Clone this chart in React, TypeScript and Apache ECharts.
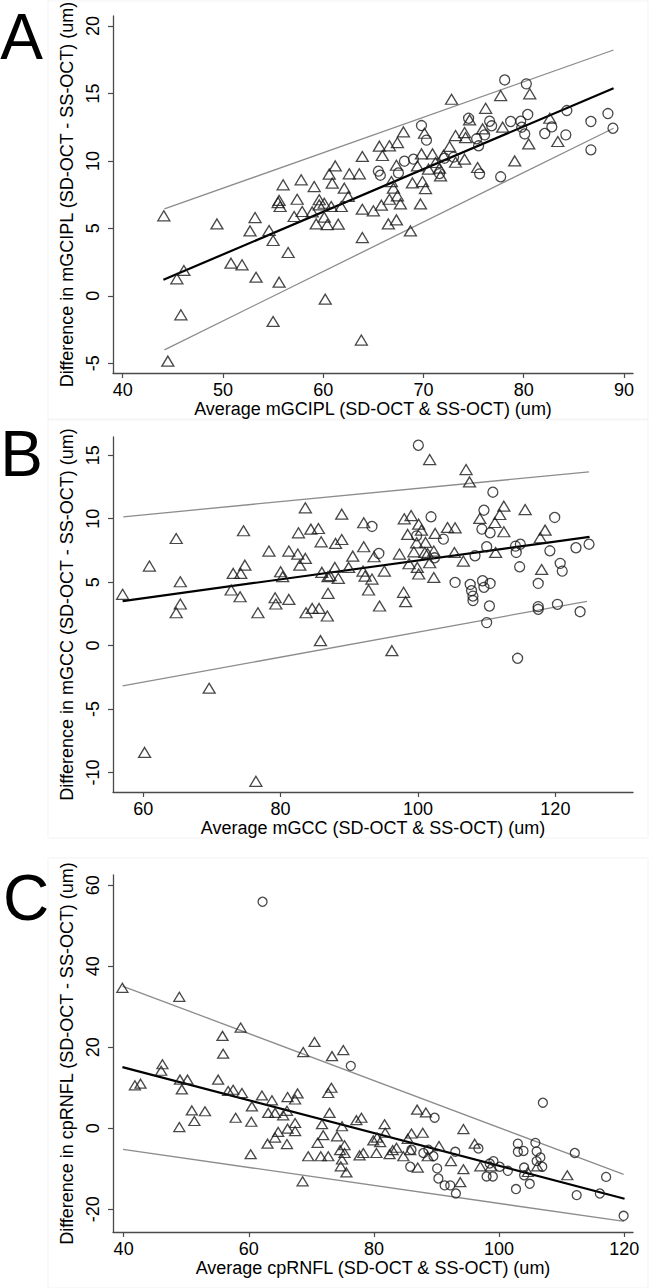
import React, { useEffect, useRef } from "react";
import * as echarts from "echarts";

// ---------- Panel A: mGCIPL ----------
const triA: number[][] = [
  [72.8,14.57],[77.7,14.84],[80.6,14.97],[76.2,13.9],[74.6,13.04],[75.9,12.37],[77.9,12.5],[82.6,13.16],[80.5,11.26],[83.4,11.44],
  [68.0,12.15],[67.4,11.36],[66.6,11.12],[65.6,11.09],[65.9,10.4],[63.9,10.33],[70.1,12.05],[73.2,11.88],[74.1,12.1],[74.2,11.73],
  [72.6,11.07],[69.8,10.52],[70.9,10.52],[72.0,10.42],[69.4,9.63],[71.2,9.88],[73.2,9.9],[74.1,10.13],[70.5,9.39],[71.7,8.89],
  [71.6,9.46],[79.1,10.0],[67.3,9.68],[61.2,9.63],[60.6,9.02],[62.6,9.04],[63.6,9.04],[60.9,8.35],[62.1,7.98],[62.5,7.36],
  [66.8,8.47],[67.0,7.98],[68.9,8.37],[69.9,8.47],[70.2,7.95],[67.4,7.41],[66.6,7.16],[75.4,9.51],
  [63.9,6.42],[65.0,6.3],[65.8,6.72],[67.7,6.81],[69.7,6.81],[60.8,6.62],[61.8,6.62],[60.1,6.86],[60.1,5.83],[60.4,5.28],
  [61.5,5.31],[63.9,4.32],[66.5,5.33],[67.3,5.63],[68.7,4.81],[60.2,-0.25],[63.8,-3.28],
  [44.1,5.93],[49.4,5.33],[53.2,5.8],[52.7,4.81],[54.6,4.84],[55.0,4.1],[56.5,3.21],[50.8,2.42],[51.9,2.3],[53.3,1.38],
  [55.6,1.01],[45.4,1.26],[46.1,1.88],[45.8,-1.41],[55.0,-1.9],[44.5,-4.84],[55.5,6.91],[55.7,6.62],[57.1,5.88],[57.9,6.25],
  [58.9,6.22],[59.3,5.33],[59.6,6.74],
  [56.0,8.23],[57.8,8.6],[59.1,8.1],[55.6,7.07],[57.4,7.16],[59.6,7.12]
];
const circA: number[][] = [
  [78.1,16.0],[80.26,15.71],[69.8,12.62],[70.3,11.54],[74.5,13.16],[76.6,12.94],[76.8,12.6],[76.1,11.93],[75.3,11.64],[75.5,11.12],
  [78.7,12.92],[79.7,12.94],[79.8,12.5],[80.4,13.44],[80.1,12.0],[84.3,13.73],[86.7,12.92],[88.4,13.51],[88.9,12.42],[86.7,10.82],
  [82.1,12.03],[82.8,12.52],[84.2,11.93],[69.0,10.13],[68.1,9.98],[65.5,9.24],[65.7,8.94],[67.5,9.11],[71.6,9.06],[75.6,9.04],
  [77.7,8.82],[73.0,10.28],[72.1,10.2]
];
const fitA = [[44.06,1.19],[88.96,15.39]];
const upA = [[44.16,6.44],[88.96,18.22]];
const loA = [[44.16,-4.0],[88.96,12.42]];

// ---------- Panel B: mGCC ----------
const triB: number[][] = [
  [57.0,4.04],[60.9,6.27],[64.8,8.44],[65.4,5.03],[65.4,3.28],[74.6,9.05],[74.8,6.34],[73.1,5.69],[74.2,5.69],[72.8,4.38],
  [74.1,3.85],[78.3,7.45],[80.0,5.82],[80.3,5.43],[79.2,3.77],[81.2,3.64],[81.2,7.45],[82.5,7.21],[82.6,8.89],[83.6,10.86],
  [84.4,9.18],[85.5,9.23],[85.9,8.18],[83.6,6.87],[82.8,6.34],[86.0,5.77],[86.9,5.43],[86.9,4.12],
  [64.8,2.59],[76.7,2.59],[79.3,3.28],[83.7,2.59],[84.6,2.93],[85.6,2.93],[86.8,2.33],[85.8,0.39],[69.6,-3.36],[60.2,-8.42],[76.4,-10.7],
  [101.7,14.66],[107.0,13.87],[107.5,12.9],[112.5,10.99],[115.6,10.72],[111.9,10.33],[109.0,10.02],[111.2,9.7],[112.5,8.97],[118.5,9.1],
  [117.8,8.5],[88.9,10.36],[92.1,9.68],[98.0,9.99],[99.0,10.25],[100.1,9.57],[100.5,9.1],[98.5,8.76],[102.5,8.84],[104.3,9.31],
  [105.4,9.28],[99.8,8.1],[101.1,8.13],[99.4,7.39],[101.0,7.34],[101.4,7.26],[102.3,7.45],[105.3,7.34],[111.3,7.34],[106.6,6.66],
  [101.7,6.53],[98.7,6.45],[99.9,6.16],[100.1,5.64],[102.3,5.37],[118.0,6.0],[88.0,8.05],[88.9,8.36],[90.5,7.05],[92.1,7.79],
  [93.6,7.0],[97.3,7.21],[89.9,6.16],[87.9,6.16],[87.2,5.51],[88.4,5.3],[92.0,5.87],[92.3,5.48],[93.3,5.24],[95.1,5.87],
  [92.8,4.38],[97.9,4.2],[98.2,3.46],[94.4,3.12],[96.2,-0.4]
];
const circB: number[][] = [
  [100.05,15.79],[110.9,12.09],[101.9,10.15],[109.6,10.67],[93.3,9.39],[99.8,8.65],[103.7,8.39],[109.3,9.18],[110.5,8.89],[94.3,7.26],
  [102.4,6.92],[108.3,7.08],[110.0,7.79],[114.2,7.84],[114.3,7.34],[114.9,7.99],[119.9,10.1],[119.2,7.47],[123.0,7.71],[124.9,7.99],
  [114.8,6.21],[120.7,6.48],[121.0,5.87],[117.5,4.9],[105.4,4.98],[107.6,4.82],[107.8,4.33],[108.0,3.9],[109.4,5.11],[109.6,4.59],
  [110.5,4.9],[110.4,3.12],[117.5,3.07],[117.5,2.86],[120.3,3.25],[123.6,2.67],[110.0,1.81],[114.5,-1.0],[108.0,3.55]
];
const fitB = [[57.0,3.51],[124.97,8.57]];
const upB = [[57.1,10.15],[124.9,13.69]];
const loB = [[57.0,-3.18],[124.6,3.49]];

// ---------- Panel C: cpRNFL ----------
const triC: number[][] = [
  [39.8,34.65],[48.9,32.43],[58.7,24.85],[55.8,22.8],[55.9,18.4],[68.7,18.8],[70.5,21.3],
  [46.2,15.8],[46.0,14.2],[41.8,10.6],[42.7,11.0],[49.0,12.0],[50.2,12.0],[49.3,9.6],[55.1,12.0],[56.7,9.2],[57.5,9.5],[58.9,8.7],
  [62.1,8.1],[63.7,6.9],[66.2,7.7],[67.8,8.6],[67.4,7.1],[60.5,5.4],[50.9,4.4],[53.0,4.2],[51.3,1.8],[48.9,0.3],[57.9,2.6],[60.4,1.6],
  [63.1,3.8],[64.2,3.8],[65.5,3.2],[66.1,4.3],[64.7,-0.9],[64.2,-2.3],[66.2,-0.1],[67.4,1.3],[67.4,-0.7],[63.0,-3.8],[66.1,-3.9],
  [60.3,-6.4],[68.6,-13.1],[69.5,-6.9],[71.0,-3.6],[71.5,-6.9],[71.9,-1.7],[71.7,1.0],[72.7,-6.9],[72.7,8.7],[72.9,3.8],
  [73.3,17.8],[75.1,19.3],[73.2,10.0],[74.9,0.5],[74.1,-2.0],[75.3,-4.2],[74.6,-5.4],[75.3,-6.1],[74.9,-7.7],[74.7,-9.4],[75.6,-10.9],
  [77.2,2.0],[78.0,2.6],[77.7,-6.7],[78.3,-6.1],[80.4,-6.1],[79.9,-3.0],[80.5,-2.3],[81.7,1.0],[81.8,-1.1],[81.0,-3.4],[82.5,-6.4],
  [83.0,-5.4],[83.6,-4.8],[84.7,-6.9],[85.4,-2.6],[86.0,-1.3],[87.8,-1.1],[85.8,-5.4],[86.9,4.6],[88.3,3.9],[87.0,-9.7],[88.6,-6.9],
  [90.4,-4.4],[92.3,-8.1],[94.3,-0.2],[94.3,-10.1],[93.8,-13.3],[96.1,-3.8],[97.0,-9.4],[98.7,-9.4],[104.6,-10.8],[106.1,-9.4],[110.9,-11.6]
];
const circC: number[][] = [
  [62.2,55.9],[76.3,15.4],[89.7,2.6],[86.0,-5.3],[87.9,-6.1],[88.7,-5.3],[89.5,-6.9],[85.8,-9.5],[90.1,-9.9],[90.3,-12.4],
  [91.3,-14.1],[92.2,-14.1],[93.1,-16.1],[93.0,-5.8],[96.7,-5.0],[98.0,-11.9],[98.5,-8.7],[99.1,-8.1],[99.0,-11.9],[100.1,-9.5],
  [101.4,-10.5],[102.7,-15.0],[103.0,-3.8],[103.9,-5.6],[103.0,-5.8],[104.0,-9.7],[104.0,-11.6],[104.9,-13.7],[105.8,-3.6],[106.0,-5.7],
  [106.6,-7.2],[106.0,-8.1],[106.9,-9.5],[107.0,6.3],[112.1,-6.1],[112.4,-16.5],[117.1,-12.0],[116.1,-16.1],[119.9,-21.6]
];
const fitC = [[39.8,15.1],[120.05,-17.4]];
const upC = [[39.8,35.1],[119.9,-11.4]];
const loC = [[39.9,-5.2],[120.0,-23.0]];

// tick labels
const xTicksA = [40, 50, 60, 70, 80, 90];
const yTicksA = [-5, 0, 5, 10, 15, 20];
const xTicksB = [60, 80, 100, 120];
const yTicksB = [-10, -5, 0, 5, 10, 15];
const xTicksC = [40, 60, 80, 100, 120];
const yTicksC = [-20, 0, 20, 40, 60];

const xNames = [
  "Average mGCIPL (SD-OCT & SS-OCT) (um)",
  "Average mGCC (SD-OCT & SS-OCT) (um)",
  "Average cpRNFL (SD-OCT & SS-OCT) (um)",
];
const yNames = [
  "Difference in mGCIPL (SD-OCT - SS-OCT) (um)",
  "Difference in mGCC (SD-OCT - SS-OCT) (um)",
  "Difference in cpRNFL (SD-OCT - SS-OCT) (um)",
];
const panelLetters = ["A", "B", "C"];

const FONT = "'Liberation Sans', Arial, Helvetica, sans-serif";
const AXIS_COLOR = "#4a4a4a";

function xAxisCfg(idx: number, min: number, max: number, ticks: number[]) {
  return {
    type: "value",
    gridIndex: idx,
    min,
    max,
    name: xNames[idx],
    nameLocation: "middle",
    nameGap: 27,
    nameTextStyle: { fontFamily: FONT, fontSize: 18, color: "#000" },
    axisLine: { show: true, onZero: false, lineStyle: { color: AXIS_COLOR, width: 1.3 } },
    axisTick: { show: true, length: 5, customValues: ticks, lineStyle: { color: AXIS_COLOR, width: 1.2 } },
    axisLabel: { customValues: ticks, fontFamily: FONT, fontSize: 18, color: "#000", margin: 8 },
    splitLine: { show: false },
  };
}
function yAxisCfg(idx: number, min: number, max: number, ticks: number[]) {
  return {
    type: "value",
    gridIndex: idx,
    min,
    max,
    name: yNames[idx],
    nameLocation: "middle",
    nameGap: 25,
    nameTextStyle: { fontFamily: FONT, fontSize: 18, color: "#000" },
    axisLine: { show: true, onZero: false, lineStyle: { color: AXIS_COLOR, width: 1.3 } },
    axisTick: { show: true, length: 5, customValues: ticks, lineStyle: { color: AXIS_COLOR, width: 1.2 } },
    axisLabel: { customValues: ticks, rotate: 90, fontFamily: FONT, fontSize: 18, color: "#000", margin: 11 },
    splitLine: { show: false },
  };
}

function scatter(idx: number, data: number[][], symbol: string, size: number | number[]) {
  return {
    type: "scatter",
    xAxisIndex: idx,
    yAxisIndex: idx,
    data,
    symbol,
    symbolSize: size,
    z: 3,
    itemStyle: { color: "transparent", borderColor: "#1a1a1a", borderWidth: 1.3 },
    emphasis: { disabled: true },
  };
}
function line(idx: number, data: number[][], color: string, width: number) {
  return {
    type: "line",
    xAxisIndex: idx,
    yAxisIndex: idx,
    data,
    symbol: "none",
    showSymbol: false,
    z: 2,
    lineStyle: { color, width },
    emphasis: { disabled: true },
  };
}

export default function App() {
  const ref = useRef<HTMLDivElement>(null);
  useEffect(() => {
    document.body.style.margin = "0";
    if (!ref.current) return;
    const chart = echarts.init(ref.current, undefined, { renderer: "svg" });
    const grids = [
      { left: 113, right: 17, top: 16, height: 357 },
      { left: 113, right: 17, top: 437, height: 355 },
      { left: 113, right: 17, top: 875, height: 357 },
    ].map((g) => ({ ...g, containLabel: false, outerBoundsMode: "none", show: false }));

    const letterPos = [
      { x: 21.5, y: 37 },
      { x: 21.5, y: 454 },
      { x: 26, y: 898 },
    ];
    const frames = [
      { x: 48, y: 1, w: 600, h: 418 },
      { x: 48, y: 420, w: 600, h: 418 },
      { x: 48, y: 858, w: 600, h: 430 },
    ];

    const option: any = {
      animation: false,
      backgroundColor: "#ffffff",
      grid: grids,
      xAxis: [
        xAxisCfg(0, 39.03, 90.9, xTicksA),
        xAxisCfg(1, 55.6, 131.3, xTicksB),
        xAxisCfg(2, 38.3, 121.4, xTicksC),
      ],
      yAxis: [
        yAxisCfg(0, -5.72, 20.74, yTicksA),
        yAxisCfg(1, -11.54, 16.44, yTicksB),
        yAxisCfg(2, -25.6, 62.5, yTicksC),
      ],
      graphic: [
        ...frames.map((f) => ({
          type: "rect",
          z: -10,
          silent: true,
          shape: { x: f.x, y: f.y, width: f.w, height: f.h },
          style: { fill: "none", stroke: "#f3f3f3", lineWidth: 1 },
        })),
        ...panelLetters.map((t, i) => ({
          type: "text",
          x: letterPos[i].x,
          y: letterPos[i].y,
          silent: true,
          style: {
            text: t,
            fontFamily: FONT,
            fontSize: 64,
            fill: "#000",
            textAlign: "center",
            textVerticalAlign: "middle",
            verticalAlign: "middle",
          },
        })),
      ],
      series: [
        line(0, upA, "#8c8c8c", 1.3),
        line(0, loA, "#8c8c8c", 1.3),
        line(0, fitA, "#000", 2.2),
        scatter(0, triA, "triangle", [12, 10]),
        scatter(0, circA, "circle", 10),
        line(1, upB, "#8c8c8c", 1.3),
        line(1, loB, "#8c8c8c", 1.3),
        line(1, fitB, "#000", 2.2),
        scatter(1, triB, "triangle", [12, 10]),
        scatter(1, circB, "circle", 10),
        line(2, upC, "#8c8c8c", 1.3),
        line(2, loC, "#8c8c8c", 1.3),
        line(2, fitC, "#000", 2.2),
        scatter(2, triC, "triangle", [11, 9]),
        scatter(2, circC, "circle", 9),
      ],
    };
    chart.setOption(option);
    return () => chart.dispose();
  }, []);
  return <div ref={ref} style={{ width: 650, height: 1288 }} />;
}
